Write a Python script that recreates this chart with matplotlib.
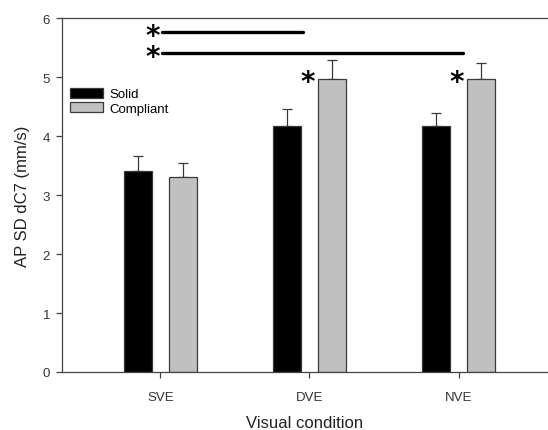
import numpy as np
import matplotlib
matplotlib.use("Agg")
import matplotlib.pyplot as plt

plt.rcParams["font.family"] = ["Liberation Sans", "DejaVu Sans"]

# Data
conditions = ["SVE", "DVE", "NVE"]
solid_mean = [3.41, 4.17, 4.17]
solid_err = [0.25, 0.29, 0.22]
compliant_mean = [3.31, 4.97, 4.97]
compliant_err = [0.23, 0.32, 0.27]

# significance bars: (start x, end x, height)
sig_lines = [(0.013, 0.96, 5.76), (0.013, 2.03, 5.41)]
# starred compliant bars (index of condition)
starred = [1, 2]

edge = "#3a3a3a"
star_drop = 0.07  # asterisk glyph sits high, pull it down to centre on target

fig = plt.figure(figsize=(5.48, 4.31), dpi=100)
ax = fig.add_axes([0.113, 0.1346, 0.887, 0.821])

x = np.arange(len(conditions))
off = 0.15
w = 0.19

ax.bar(x - off, solid_mean, w, color="black", edgecolor=edge, linewidth=0.9,
       label="Solid", zorder=2)
ax.bar(x + off, compliant_mean, w, color="#c0c0c0", edgecolor=edge, linewidth=0.9,
       label="Compliant", zorder=2)
ax.errorbar(x - off, solid_mean, yerr=[np.zeros(3), solid_err], fmt="none",
            ecolor=edge, elinewidth=0.9, capsize=3.6, capthick=0.9, zorder=1)
ax.errorbar(x + off, compliant_mean, yerr=[np.zeros(3), compliant_err], fmt="none",
            ecolor=edge, elinewidth=0.9, capsize=3.6, capthick=0.9, zorder=1)

for x0, x1, h in sig_lines:
    ax.plot([x0, x1], [h, h], color="black", linewidth=2.4, solid_capstyle="round")
    ax.text(x0 - 0.065, h - star_drop, "*", fontsize=20, fontweight="bold",
            ha="center", va="center", family="DejaVu Sans")

for i in starred:
    ax.text(x[i] + off - 0.16, compliant_mean[i] + 0.01 - star_drop, "*",
            fontsize=20, fontweight="bold", ha="center", va="center",
            family="DejaVu Sans")

ax.set_xlim(-0.66, 2.60)
ax.set_ylim(0, 6)
ax.set_xticks(x)
ax.set_xticklabels(conditions)
ax.set_yticks(range(7))

for s in ["left", "bottom", "top"]:
    ax.spines[s].set_color("#444444")
    ax.spines[s].set_linewidth(0.9)
ax.spines["right"].set_visible(False)
ax.tick_params(direction="out", length=4, width=0.9, color="#444444",
               labelsize=9.5, labelcolor="#333333", pad=4.5)
ax.tick_params(axis="x", pad=10)

ax.set_ylabel("AP SD dC7 (mm/s)", fontsize=12, color="#222222", labelpad=9)
ax.set_xlabel("Visual condition", fontsize=12, color="#222222", labelpad=8)

ax.legend(loc="upper left", bbox_to_anchor=(0.0, 0.825), frameon=False,
          fontsize=9.5, handlelength=2.5, handleheight=0.75, labelspacing=0.15,
          handletextpad=0.5, borderpad=0.2, borderaxespad=0.4)

fig.savefig("out.png", dpi=100)
